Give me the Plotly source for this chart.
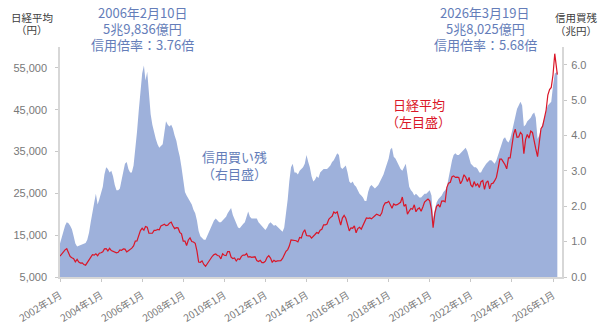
import pandas as pd
import plotly.graph_objects as go

# ---- data (monthly, 2002-01 .. 2026-03) ----
nikkei = [
    # 2002
    9997, 10587, 11024, 11492, 11763, 10621, 9877, 9619, 9383, 8640, 9215, 8579,
    # 2003
    8340, 8363, 7973, 7831, 8425, 9083, 9563, 10344, 10219, 10560, 10101, 10677,
    # 2004
    10784, 11042, 11715, 11762, 11236, 11859, 11326, 11082, 10824, 10771, 10899, 11489,
    # 2005
    11388, 11740, 11669, 11009, 11277, 11584, 11900, 12414, 13574, 13607, 14872, 16111,
    # 2006
    16650, 16205, 17060, 16906, 15468, 15505, 15457, 16141, 16128, 16399, 16274, 17226,
    # 2007
    17383, 17604, 17288, 17400, 17876, 18138, 17249, 16569, 16786, 16738, 15681, 15308,
    # 2008
    13592, 13603, 12526, 13850, 14339, 13481, 13377, 13073, 11260, 8577, 8512, 8860,
    # 2009
    7994, 7568, 8110, 8828, 9523, 9958, 10357, 10493, 10133, 10035, 9346, 10546,
    # 2010
    10198, 10126, 11090, 11057, 9769, 9383, 9537, 8824, 9369, 9202, 9937, 10229,
    # 2011
    10238, 10624, 9755, 9850, 9694, 9816, 9833, 8955, 8700, 8988, 8435, 8455,
    # 2012
    8803, 9723, 10084, 9521, 8543, 9007, 8695, 8840, 8870, 8928, 9446, 10395,
    # 2013
    11139, 11559, 12398, 13861, 13775, 13677, 13668, 13389, 14456, 14328, 15662, 16291,
    # 2014
    14915, 14841, 14828, 14304, 14632, 15162, 15621, 15425, 16174, 16414, 17460, 17451,
    # 2015
    17674, 18798, 19207, 19520, 20563, 20236, 20585, 18890, 17388, 19083, 19747, 19034,
    # 2016
    17518, 16027, 16759, 16666, 17235, 15576, 16569, 16887, 16450, 17425, 18308, 19114,
    # 2017
    19041, 19119, 18909, 19197, 19651, 20033, 19925, 19646, 20356, 22012, 22725, 22765,
    # 2018
    23098, 22068, 21454, 22468, 22202, 22305, 22554, 22865, 24120, 21920, 22351, 20015,
    # 2019
    20773, 21385, 21206, 22259, 20601, 21276, 21522, 20704, 21756, 22927, 23294, 23657,
    # 2020
    23205, 21143, 16800, 20194, 21878, 22288, 21710, 23140, 23185, 22977, 26434, 27444,
    # 2021
    27663, 28966, 29179, 28813, 28860, 28792, 27284, 28090, 29453, 28893, 27822, 28792,
    # 2022
    27002, 26527, 27821, 26848, 27280, 26393, 27802, 28092, 25937, 27587, 27969, 26095,
    # 2023
    27327, 27446, 28041, 28856, 30888, 33189, 33172, 32619, 31858, 30859, 33487, 33464,
    # 2024
    36287, 39166, 40369, 38406, 38488, 39583, 39102, 34500, 37920, 39081, 38208, 39895,
    # 2025
    39572, 37156, 35618, 33800, 37965, 40487, 41070, 42718, 44933, 48500, 49800, 50339,
    # 2026
    53300, 58400, 53400,
]

margin_buy = [
    # 2002
    0.95, 1.15, 1.30, 1.45, 1.55, 1.52, 1.45, 1.35, 1.15, 0.95, 0.86, 0.88,
    # 2003
    0.90, 0.92, 0.93, 0.96, 1.05, 1.25, 1.55, 1.90, 2.10, 2.35, 2.05, 2.20,
    # 2004
    2.40, 2.55, 2.90, 3.10, 3.05, 2.95, 3.00, 2.85, 2.60, 2.45, 2.45, 2.50,
    # 2005
    2.75, 2.95, 3.20, 3.25, 3.05, 2.95, 2.95, 3.15, 3.60, 4.10, 4.70, 5.30,
    # 2006
    5.75, 5.98, 5.55, 5.80, 5.20, 4.60, 4.30, 4.05, 3.90, 3.75, 3.65, 3.70,
    # 2007
    3.75, 4.10, 4.40, 4.30, 4.25, 4.30, 4.20, 4.00, 3.85, 3.60, 3.40, 3.10,
    # 2008
    2.70, 2.40, 2.30, 2.20, 2.15, 2.05, 1.90, 1.80, 1.60, 1.30, 1.15, 1.10,
    # 2009
    1.05, 1.05, 1.15, 1.25, 1.40, 1.50, 1.60, 1.65, 1.60, 1.55, 1.55, 1.60,
    # 2010
    1.65, 1.70, 1.80, 1.90, 1.95, 1.75, 1.65, 1.55, 1.40, 1.38, 1.45, 1.50,
    # 2011
    1.55, 1.75, 1.85, 1.70, 1.65, 1.65, 1.65, 1.65, 1.55, 1.50, 1.45, 1.40,
    # 2012
    1.33, 1.40, 1.50, 1.55, 1.50, 1.45, 1.47, 1.42, 1.35, 1.30, 1.28, 1.40,
    # 2013
    1.75, 2.20, 2.70, 3.10, 3.20, 2.95, 2.95, 2.90, 3.00, 3.05, 3.10, 3.20,
    # 2014
    3.45, 3.25, 3.10, 2.85, 2.70, 2.75, 2.85, 2.80, 2.95, 3.00, 3.05, 3.05,
    # 2015
    3.05, 3.10, 3.15, 3.25, 3.30, 3.40, 3.50, 3.45, 3.10, 3.05, 3.10, 3.15,
    # 2016
    2.95, 2.70, 2.65, 2.70, 2.60, 2.55, 2.45, 2.35, 2.30, 2.25, 2.15, 2.15,
    # 2017
    2.40, 2.55, 2.60, 2.55, 2.50, 2.55, 2.60, 2.70, 2.80, 2.90, 3.05, 3.20,
    # 2018
    3.35, 3.60, 3.65, 3.40, 3.35, 3.25, 3.15, 3.05, 3.00, 3.10, 3.20, 2.90,
    # 2019
    2.55, 2.45, 2.40, 2.30, 2.35, 2.30, 2.25, 2.25, 2.30, 2.35, 2.35, 2.40,
    # 2020
    2.45, 2.30, 1.65, 1.90, 2.10, 2.20, 2.25, 2.30, 2.40, 2.45, 2.55, 2.80,
    # 2021
    3.15, 3.30, 3.45, 3.50, 3.45, 3.45, 3.50, 3.55, 3.60, 3.65, 3.55, 3.35,
    # 2022
    3.20, 3.15, 3.10, 3.10, 3.05, 2.95, 2.95, 3.05, 3.15, 3.20, 3.25, 3.30,
    # 2023
    3.30, 3.25, 3.20, 3.30, 3.45, 3.60, 3.75, 3.90, 3.95, 3.85, 3.80, 3.90,
    # 2024
    4.10, 4.35, 4.60, 4.75, 4.85, 4.95, 4.85, 4.25, 4.30, 4.40, 4.45, 4.50,
    # 2025
    4.60, 4.65, 4.50, 3.90, 4.00, 4.15, 4.30, 4.50, 4.70, 4.85, 4.90, 4.95,
    # 2026
    5.40, 5.75, 5.80,
]

dates = list(pd.date_range("2002-01-01", periods=len(nikkei) - 1, freq="MS")) + [pd.Timestamp("2026-03-19")]

tick_years = list(range(2002, 2027, 2))
tick_vals = [pd.Timestamp(f"{y}-01-01") for y in tick_years]
tick_text = [f"{y}年1月" for y in tick_years]

left_ticks = [5000, 15000, 25000, 35000, 45000, 55000]
right_ticks = [0, 1, 2, 3, 4, 5, 6]

JP = "Noto Sans CJK JP"
AREA = "rgb(158,177,219)"
BLUE_TXT = "rgb(100,125,185)"
RED = "rgb(218,22,40)"
GRAY = "rgb(120,120,120)"
DARK = "rgb(60,60,60)"

# text lines: (text, x paper, y paper, size, color)
text_lines = [
    ("日経平均", -0.056, 1.130, 10.5, DARK),
    ("（円）", -0.056, 1.074, 10.5, DARK),
    ("信用買残", 1.028, 1.130, 10.5, DARK),
    ("（兆円）", 1.028, 1.070, 10.5, DARK),
    ("2006年2月10日", 0.165, 1.150, 13, BLUE_TXT),
    ("5兆9,836億円", 0.165, 1.080, 13, BLUE_TXT),
    ("信用倍率：3.76倍", 0.165, 1.010, 13, BLUE_TXT),
    ("2026年3月19日", 0.847, 1.150, 13, BLUE_TXT),
    ("5兆8,025億円", 0.847, 1.080, 13, BLUE_TXT),
    ("信用倍率：5.68倍", 0.847, 1.010, 13, BLUE_TXT),
    ("信用買い残", 0.348, 0.522, 13, BLUE_TXT),
    ("（右目盛）", 0.348, 0.450, 13, BLUE_TXT),
    ("日経平均", 0.715, 0.752, 13, RED),
    ("（左目盛）", 0.715, 0.678, 13, RED),
]

fig = go.Figure()
fig.add_trace(go.Scatter(
    x=dates, y=margin_buy, yaxis="y", mode="lines",
    line=dict(width=0, color=AREA), fill="tozeroy", fillcolor=AREA,
    hoverinfo="skip", showlegend=False,
))
fig.add_trace(go.Scatter(
    x=dates, y=nikkei, yaxis="y2", mode="lines",
    line=dict(width=1.2, color=RED), hoverinfo="skip", showlegend=False,
))

fig.update_layout(
    width=600, height=325,
    margin=dict(l=60, r=38, t=47, b=48, autoexpand=False),
    paper_bgcolor="white", plot_bgcolor="white",
    font=dict(family=JP, color=GRAY),
    xaxis=dict(
        type="date", range=[pd.Timestamp("2002-01-01"), pd.Timestamp("2026-06-10")],
        tickvals=tick_vals, ticktext=tick_text, tickangle=-32,
        tickfont=dict(size=10, color=GRAY, family=JP),
        ticklabelstandoff=4,
        showgrid=False, zeroline=False, automargin=False,
        showline=True, linecolor="rgb(215,215,215)", linewidth=1.5,
        ticks="outside", ticklen=3, tickcolor="rgb(200,200,200)",
    ),
    yaxis=dict(
        side="right", range=[0, 6.5], tickvals=right_ticks,
        tickformat=".1f", tickfont=dict(size=11, color=GRAY, family="Liberation Sans"),
        ticklabelstandoff=2,
        showgrid=False, zeroline=False, automargin=False,
        showline=True, linecolor="rgb(215,215,215)", linewidth=2,
        ticks="outside", ticklen=3, tickcolor="rgb(200,200,200)",
    ),
    yaxis2=dict(
        side="left", overlaying="y", range=[5000, 60000], tickvals=left_ticks,
        tickformat=",", tickfont=dict(size=11, color=GRAY, family="Liberation Sans"),
        ticklabelstandoff=6,
        showgrid=False, zeroline=False, automargin=False,
        showline=True, linecolor="rgb(215,215,215)", linewidth=1.5,
        ticks="outside", ticklen=3, tickcolor="rgb(200,200,200)",
        anchor="x",
    ),
    annotations=[
        dict(text=t, xref="paper", yref="paper", x=x, y=y, showarrow=False,
             font=dict(size=s, color=c, family=JP), xanchor="center", yanchor="middle")
        for (t, x, y, s, c) in text_lines
    ],
)

fig.write_html("out.html")
